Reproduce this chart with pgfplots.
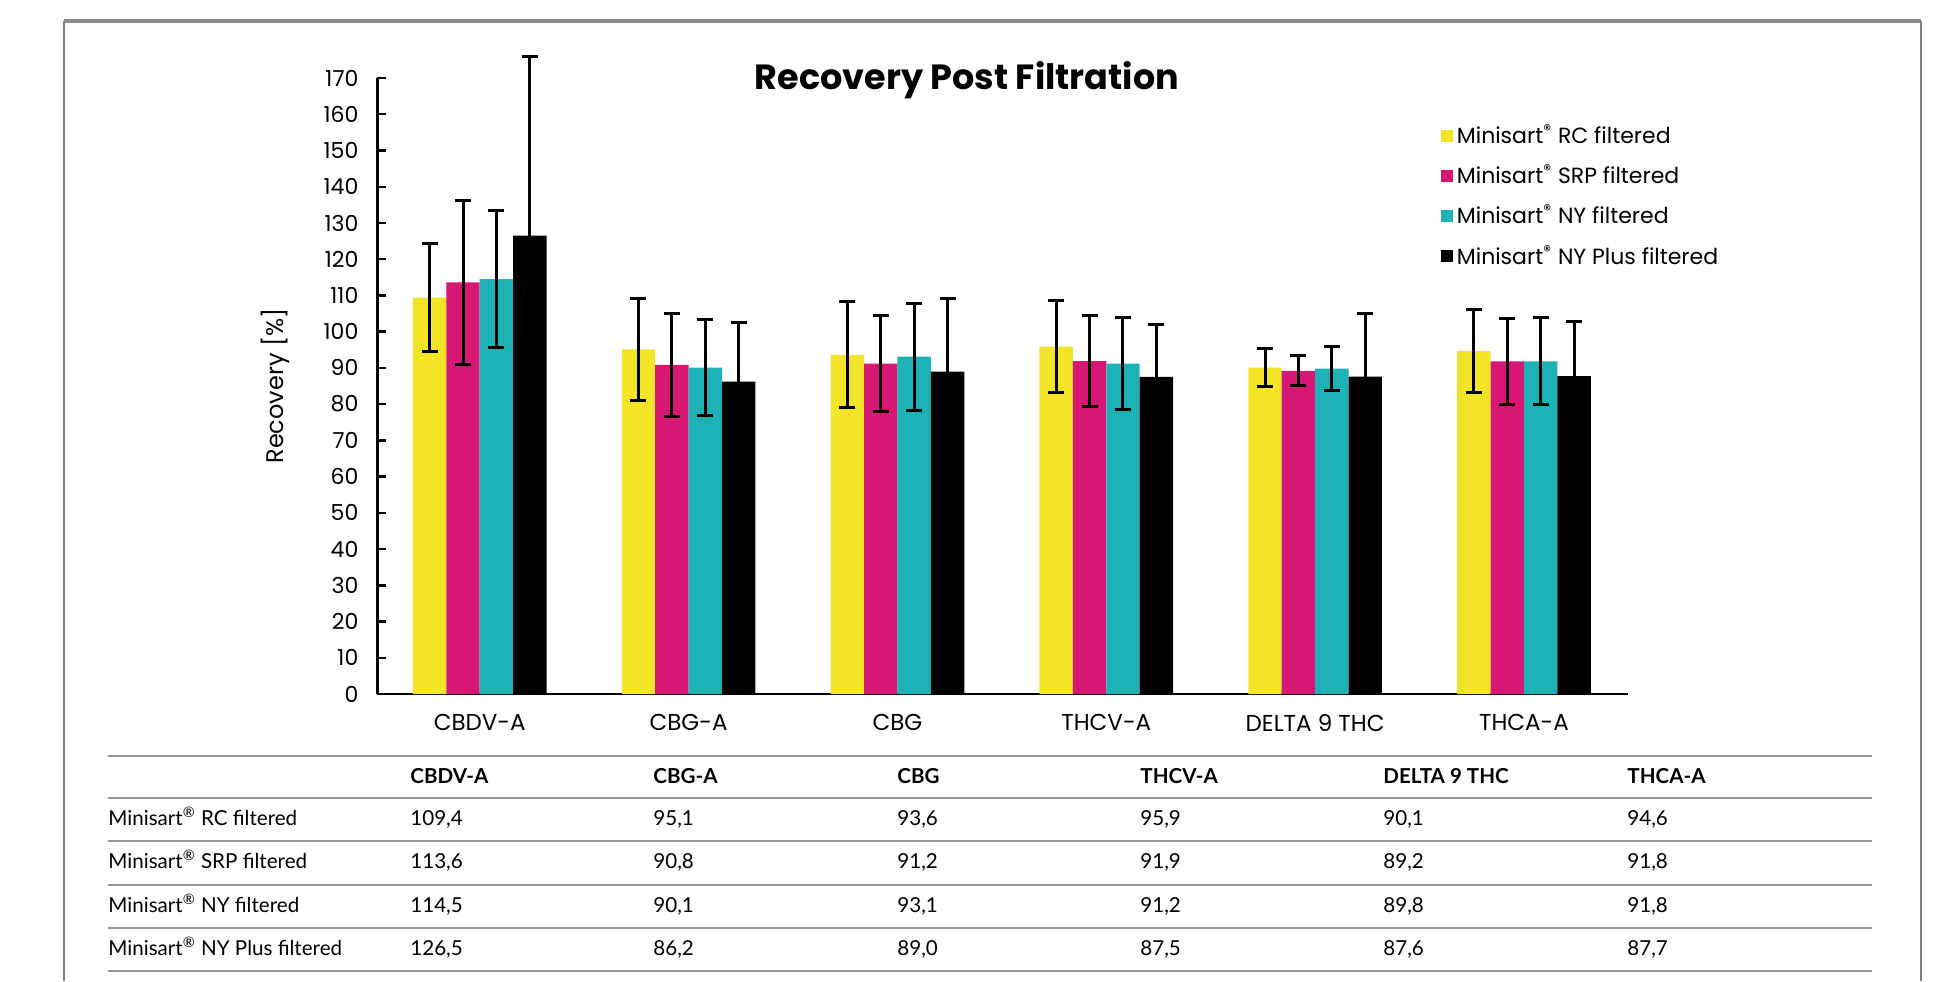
\documentclass[border=0pt]{standalone}
\usepackage{fontspec}
\setmainfont{Poppins}
\newfontfamily\tabfont{Lato}
\usepackage{pgfplots}
\usepackage{pgfplotstable}
\pgfplotsset{compat=1.18}

\definecolor{cyel}{RGB}{242,228,39}
\definecolor{cmag}{RGB}{214,23,115}
\definecolor{cteal}{RGB}{30,177,181}
\definecolor{cframe}{RGB}{140,140,140}
\definecolor{crule}{RGB}{150,150,150}

\pgfplotstableread{
x y e
0 109.4 15.0
1 95.1 14.0
2 93.6 14.6
3 95.9 12.6
4 90.1 5.2
5 94.6 11.5
}\rc
\pgfplotstableread{
x y e
0 113.6 22.7
1 90.8 14.2
2 91.2 13.3
3 91.9 12.6
4 89.2 4.1
5 91.8 11.8
}\srp
\pgfplotstableread{
x y e
0 114.5 19.0
1 90.1 13.3
2 93.1 14.8
3 91.2 12.6
4 89.8 6.0
5 91.8 12.0
}\ny
\pgfplotstableread{
x y e
0 126.5 49.4
1 86.2 16.4
2 89.0 20.1
3 87.5 14.6
4 87.6 17.5
5 87.7 15.0
}\nyp

\newcommand\reg{\textsuperscript{®}}

\begin{document}
\begin{tikzpicture}[x=0.5pt,y=-0.5pt]
\useasboundingbox (0,0) rectangle (1940,981);
\draw[cframe, line width=1.6pt] (64,21) -- (1921,21);
\draw[gray, line width=0.6pt] (64,21) -- (64,981);
\draw[gray, line width=0.6pt] (1921,21) -- (1921,981);

\begin{axis}[
  at={(188.7pt,-347pt)}, anchor=south west,
  scale only axis, width=625.5pt, height=308pt,
  ybar=0pt, bar width=0.16,
  xmin=-0.49, xmax=5.5, ymin=0, ymax=170,
  axis x line=bottom, axis y line=left,
  axis line style={-, line width=1.2pt},
  clip=false,
  ytick={0,10,...,170},
  xtick={0,1,2,3,4,5},
  xticklabels={CBDV-A,CBG-A,CBG,THCV-A,DELTA 9 THC,THCA-A},
  x tick style={draw=none},
  y tick style={line width=1.2pt, black},
  major tick length=4.5pt,
  tick align=inside,
  /pgf/number format/assume math mode=true,
  yticklabel style={font=\fontsize{11}{13}\selectfont, anchor=east, xshift=-6pt},
  xticklabel style={font=\fontsize{11.5}{13}\selectfont, yshift=-6.5pt},
  legend image code/.code={\fill[#1] (0pt,-3pt) rectangle (6pt,3pt);},
  legend style={at={(0.845,0.938)}, anchor=north west, draw=none, fill=none,
    font=\fontsize{11}{13}\selectfont, row sep=5.2pt},
  legend cell align=left,
  error bars/y dir=both, error bars/y explicit,
  error bars/error bar style={line width=1.5pt, black},
  error bars/error mark options={line width=1.5pt, black, mark size=4pt, rotate=90},
]
\addplot[fill=cyel, draw=none] table[x=x, y=y, y error=e] {\rc};
\addlegendentry{Minisart\reg{} RC filtered}
\addplot[fill=cmag, draw=none] table[x=x, y=y, y error=e] {\srp};
\addlegendentry{Minisart\reg{} SRP filtered}
\addplot[fill=cteal, draw=none] table[x=x, y=y, y error=e] {\ny};
\addlegendentry{Minisart\reg{} NY filtered}
\addplot[fill=black, draw=none] table[x=x, y=y, y error=e] {\nyp};
\addlegendentry{Minisart\reg{} NY Plus filtered}
\end{axis}

\node[font=\fontsize{17.5}{19}\selectfont\bfseries] at (967,80) {Recovery Post Filtration};
\node[rotate=90, font=\fontsize{12}{14}\selectfont] at (275,386) {Recovery [\%]};

% table
\foreach \yy in {756,798,841,885,928,971}
  \draw[crule, line width=1.3pt] (108,\yy) -- (1872,\yy);
\begin{scope}[every node/.style={anchor=base west, inner sep=0pt, font=\tabfont\fontsize{10.3}{12}\selectfont}]
\node[font=\tabfont\bfseries\fontsize{10.3}{12}\selectfont] at (410,783) {CBDV-A};
\node[font=\tabfont\bfseries\fontsize{10.3}{12}\selectfont] at (653,783) {CBG-A};
\node[font=\tabfont\bfseries\fontsize{10.3}{12}\selectfont] at (897,783) {CBG};
\node[font=\tabfont\bfseries\fontsize{10.3}{12}\selectfont] at (1140,783) {THCV-A};
\node[font=\tabfont\bfseries\fontsize{10.3}{12}\selectfont] at (1383,783) {DELTA 9 THC};
\node[font=\tabfont\bfseries\fontsize{10.3}{12}\selectfont] at (1627,783) {THCA-A};
\node at (108,825) {Minisart\reg{} RC filtered};
\node at (108,868) {Minisart\reg{} SRP filtered};
\node at (108,912) {Minisart\reg{} NY filtered};
\node at (108,955) {Minisart\reg{} NY Plus filtered};
\node at (410,825) {109,4}; \node at (653,825) {95,1}; \node at (897,825) {93,6};
\node at (1140,825) {95,9}; \node at (1383,825) {90,1}; \node at (1627,825) {94,6};
\node at (410,868) {113,6}; \node at (653,868) {90,8}; \node at (897,868) {91,2};
\node at (1140,868) {91,9}; \node at (1383,868) {89,2}; \node at (1627,868) {91,8};
\node at (410,912) {114,5}; \node at (653,912) {90,1}; \node at (897,912) {93,1};
\node at (1140,912) {91,2}; \node at (1383,912) {89,8}; \node at (1627,912) {91,8};
\node at (410,955) {126,5}; \node at (653,955) {86,2}; \node at (897,955) {89,0};
\node at (1140,955) {87,5}; \node at (1383,955) {87,6}; \node at (1627,955) {87,7};
\end{scope}
\end{tikzpicture}
\end{document}
